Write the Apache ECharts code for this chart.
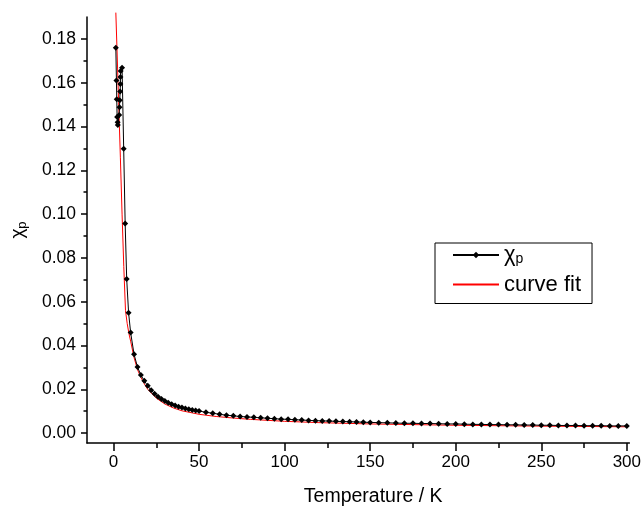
<!DOCTYPE html>
<html><head><meta charset="utf-8">
<script src="https://cdn.jsdelivr.net/npm/echarts@6/dist/echarts.min.js"></script>
<style>html,body{margin:0;padding:0;background:#fff}#c{width:644px;height:512px}</style>
</head><body><div id="c"></div>
<script>
// measured data (chi_p vs T)
const tempK = [1.35,1.7,1.9,2.1,2.4,2.5,3.3,3.5,3.65,3.85,4.0,4.05,4.2,5.0,5.95,6.8,7.7,8.8,10,
  12,14,16,18,20,22,24,26,28,30,32,34,36,38,40,42,44,46,48,50,
  54,58,62,66,70,74,78,82,86,90,94,98,102,106,110,114,118,122,126,130,134,138,142,146,150,
  155,160,165,170,175,180,185,190,195,200,205,210,215,220,225,230,235,240,245,250,255,260,265,270,275,280,285,290,295,300];
const chiP = [0.176,0.161,0.1525,0.1443,0.1419,0.1407,0.1453,0.1488,0.152,0.156,0.1594,0.1626,0.1653,0.1668,0.1298,0.0957,0.0704,0.0550,0.0459,
  0.0360,0.0302,0.0265,0.0239,0.0216,0.0196,0.0180,0.0166,0.0156,0.0147,0.0139,0.0132,0.0126,0.0121,0.0117,0.0112,0.0109,0.0106,0.0103,0.0101,
  0.0095,0.0091,0.0086,0.0082,0.0079,0.0076,0.0074,0.0072,0.0070,0.0068,0.0066,0.0064,0.0063,0.0061,0.0060,0.0058,0.0057,0.0056,0.0055,0.0054,0.0053,0.0052,0.0051,0.0050,0.0049,
  0.0048,0.0047,0.0046,0.0045,0.0045,0.0044,0.0044,0.0043,0.0042,0.0042,0.0041,0.0040,0.0040,0.0039,0.0039,0.0038,0.0038,0.0037,0.0037,0.0036,0.0036,0.0035,0.0035,0.0035,0.0034,0.0034,0.0034,0.0033,0.0033,0.0033];
// curve fit
const fitTemp = [1.35,2,3,4,5,6,7,8,9,10,12,14,16,18,20,25,30,35,40,50,60,70,80,100,120,150,200,250,300];
const fitChi = [0.192,0.176,0.151,0.126,0.100,0.076,0.056,0.0500,0.0455,0.0420,0.0345,0.0290,0.0255,0.0225,0.0200,0.0160,0.0133,0.0115,0.0102,0.0086,0.0076,0.0069,0.0063,0.0054,0.0048,0.0042,0.0036,0.0032,0.0029];
// ticks
const xTicks = [0,50,100,150,200,250,300];
const xMinor = [25,75,125,175,225,275];
const yTicks = [0,0.02,0.04,0.06,0.08,0.10,0.12,0.14,0.16,0.18];
const yMinor = [0.01,0.03,0.05,0.07,0.09,0.11,0.13,0.15,0.17];

const FONT = 'Liberation Sans, Arial, sans-serif';
const XMIN = -15.5, XMAX = 301.5, YMIN = -0.0045, YMAX = 0.19;
const axisLine = {show:true, onZero:false, lineStyle:{color:'#000', width:1.5}};

const chart = echarts.init(document.getElementById('c'), null, {renderer:'canvas'});
chart.setOption({
  animation:false,
  backgroundColor:'#fff',
  grid:{left:83, right:14, top:17, bottom:67},
  legend:{
    orient:'vertical', left:435, top:243,
    data:[{name:'χp'}, {name:'curve fit', itemStyle:{opacity:0}}],
    itemWidth:46, itemHeight:8, itemGap:7,
    borderColor:'#000', borderWidth:1, borderRadius:0,
    padding:[1,11,8,17],
    textStyle:{fontFamily:FONT, fontSize:22, color:'#000',
      rich:{c:{fontFamily:FONT,fontSize:22,color:'#000'}, s:{fontFamily:FONT,fontSize:14,color:'#000',padding:[9,0,0,0]}}},
    formatter:n => n==='χp' ? '{c|χ}{s|p}' : '{c|'+n+'}'
  },
  xAxis:[
    {type:'value', min:XMIN, max:XMAX, axisLine:axisLine, splitLine:{show:false},
     axisTick:{show:true, customValues:xTicks, length:8, lineStyle:{color:'#000',width:1.5}},
     axisLabel:{customValues:xTicks, fontFamily:FONT, fontSize:17, color:'#000', margin:11},
     name:'Temperature / K', nameLocation:'middle', nameGap:44,
     nameTextStyle:{fontFamily:FONT, fontSize:19.5, color:'#000', padding:[0,0,0,30]}},
    {type:'value', min:XMIN, max:XMAX, position:'bottom', axisLine:{show:false, onZero:false}, splitLine:{show:false},
     axisTick:{show:true, customValues:xMinor, length:5, lineStyle:{color:'#000',width:1.5}},
     axisLabel:{show:false}}
  ],
  yAxis:[
    {type:'value', min:YMIN, max:YMAX, axisLine:axisLine, splitLine:{show:false},
     axisTick:{show:true, customValues:yTicks, length:6, lineStyle:{color:'#000',width:1.5}},
     axisLabel:{customValues:yTicks, formatter:v=>v.toFixed(2), fontFamily:FONT, fontSize:17.5, color:'#000', margin:11},
     name:'{c|χ}{s|p}', nameLocation:'middle', nameRotate:90, nameGap:58,
     nameTextStyle:{rich:{c:{fontFamily:FONT,fontSize:19,color:'#000'}, s:{fontFamily:FONT,fontSize:13,color:'#000',padding:[10,0,0,0]}}}},
    {type:'value', min:YMIN, max:YMAX, position:'left', axisLine:{show:false, onZero:false}, splitLine:{show:false},
     axisTick:{show:true, customValues:yMinor, length:3.5, lineStyle:{color:'#000',width:1.5}},
     axisLabel:{show:false}}
  ],
  series:[
    {name:'χp', type:'line', xAxisIndex:0, yAxisIndex:0,
     data:tempK.map((t,i)=>[t, chiP[i]]),
     symbol:'diamond', symbolSize:6, showSymbol:true,
     itemStyle:{color:'#000'}, lineStyle:{color:'#000', width:1}, z:3},
    {name:'curve fit', type:'line', xAxisIndex:0, yAxisIndex:0,
     data:fitTemp.map((t,i)=>[t, fitChi[i]]),
     symbol:'none', smooth:false, clip:false,
     itemStyle:{color:'#ff0000'}, lineStyle:{color:'#ff0000', width:1}, z:2}
  ]
});
</script></body></html>
